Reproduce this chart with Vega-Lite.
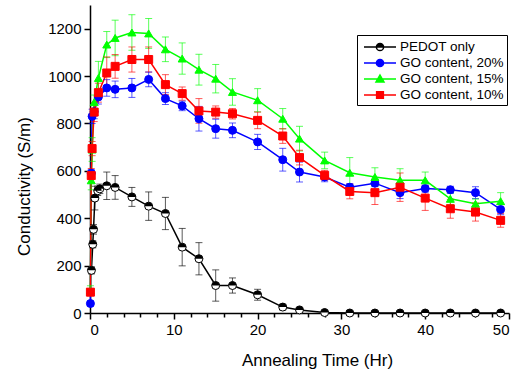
{
  "$schema": "https://vega.github.io/schema/vega-lite/v6.json",
  "width": 419,
  "height": 308,
  "autosize": {"type": "none"},
  "padding": {"left": 90, "top": 5, "right": 15, "bottom": 60},
  "config": {
    "font": "Liberation Sans",
    "view": {"stroke": null},
    "axis": {"domainColor": "black", "domainWidth": 1.5, "tickColor": "black", "tickWidth": 1.5, "labelColor": "black", "titleColor": "black", "grid": false, "labelFontSize": 15, "titleFontSize": 17, "titleFontWeight": "normal", "tickSize": 6, "labelPadding": 3}
  },
  "data": {"values": [
    {"s":"PEDOT only","t":0.17,"v":180,"e":15},{"s":"PEDOT only","t":0.33,"v":290,"e":15},{"s":"PEDOT only","t":0.42,"v":353,"e":20},{"s":"PEDOT only","t":0.58,"v":485,"e":50},{"s":"PEDOT only","t":0.92,"v":516,"e":20},{"s":"PEDOT only","t":1.17,"v":524,"e":20},{"s":"PEDOT only","t":2,"v":537,"e":58},{"s":"PEDOT only","t":3,"v":530,"e":50},{"s":"PEDOT only","t":5,"v":490,"e":40},{"s":"PEDOT only","t":7,"v":451,"e":60},{"s":"PEDOT only","t":9,"v":420,"e":68},{"s":"PEDOT only","t":11,"v":278,"e":79},{"s":"PEDOT only","t":13,"v":229,"e":68},{"s":"PEDOT only","t":15,"v":116,"e":66},{"s":"PEDOT only","t":17,"v":116,"e":32},{"s":"PEDOT only","t":20,"v":77,"e":23},{"s":"PEDOT only","t":23,"v":25,"e":12},{"s":"PEDOT only","t":25,"v":13,"e":9},{"s":"PEDOT only","t":28,"v":2,"e":0},{"s":"PEDOT only","t":31,"v":0,"e":0},{"s":"PEDOT only","t":34,"v":0,"e":0},{"s":"PEDOT only","t":37,"v":0,"e":0},{"s":"PEDOT only","t":40,"v":0,"e":0},{"s":"PEDOT only","t":43,"v":0,"e":0},{"s":"PEDOT only","t":46,"v":0,"e":0},{"s":"PEDOT only","t":49,"v":0,"e":0},
    {"s":"GO content, 20%","t":0.05,"v":40,"e":10},{"s":"GO content, 20%","t":0.15,"v":590,"e":15},{"s":"GO content, 20%","t":0.25,"v":830,"e":30},{"s":"GO content, 20%","t":0.5,"v":850,"e":30},{"s":"GO content, 20%","t":1,"v":912,"e":30},{"s":"GO content, 20%","t":2,"v":950,"e":35},{"s":"GO content, 20%","t":3,"v":944,"e":35},{"s":"GO content, 20%","t":5,"v":950,"e":40},{"s":"GO content, 20%","t":7,"v":986,"e":31},{"s":"GO content, 20%","t":9,"v":905,"e":25},{"s":"GO content, 20%","t":11,"v":874,"e":20},{"s":"GO content, 20%","t":13,"v":820,"e":52},{"s":"GO content, 20%","t":15,"v":778,"e":40},{"s":"GO content, 20%","t":17,"v":771,"e":31},{"s":"GO content, 20%","t":20,"v":722,"e":32},{"s":"GO content, 20%","t":23,"v":647,"e":48},{"s":"GO content, 20%","t":25,"v":595,"e":42},{"s":"GO content, 20%","t":28,"v":574,"e":20},{"s":"GO content, 20%","t":31,"v":531,"e":15},{"s":"GO content, 20%","t":34,"v":548,"e":15},{"s":"GO content, 20%","t":37,"v":508,"e":25},{"s":"GO content, 20%","t":40,"v":525,"e":15},{"s":"GO content, 20%","t":43,"v":520,"e":15},{"s":"GO content, 20%","t":46,"v":508,"e":25},{"s":"GO content, 20%","t":49,"v":437,"e":22},
    {"s":"GO content, 15%","t":0.05,"v":95,"e":20},{"s":"GO content, 15%","t":0.15,"v":560,"e":40},{"s":"GO content, 15%","t":0.25,"v":690,"e":50},{"s":"GO content, 15%","t":0.5,"v":890,"e":30},{"s":"GO content, 15%","t":1,"v":992,"e":70},{"s":"GO content, 15%","t":2,"v":1133,"e":55},{"s":"GO content, 15%","t":3,"v":1161,"e":75},{"s":"GO content, 15%","t":5,"v":1184,"e":75},{"s":"GO content, 15%","t":7,"v":1180,"e":63},{"s":"GO content, 15%","t":9,"v":1113,"e":52},{"s":"GO content, 15%","t":11,"v":1074,"e":66},{"s":"GO content, 15%","t":13,"v":1027,"e":65},{"s":"GO content, 15%","t":15,"v":989,"e":60},{"s":"GO content, 15%","t":17,"v":933,"e":56},{"s":"GO content, 15%","t":20,"v":898,"e":49},{"s":"GO content, 15%","t":23,"v":820,"e":43},{"s":"GO content, 15%","t":25,"v":736,"e":52},{"s":"GO content, 15%","t":28,"v":644,"e":35},{"s":"GO content, 15%","t":31,"v":592,"e":64},{"s":"GO content, 15%","t":34,"v":574,"e":39},{"s":"GO content, 15%","t":37,"v":560,"e":49},{"s":"GO content, 15%","t":40,"v":560,"e":35},{"s":"GO content, 15%","t":43,"v":482,"e":25},{"s":"GO content, 15%","t":46,"v":461,"e":20},{"s":"GO content, 15%","t":49,"v":472,"e":36},
    {"s":"GO content, 10%","t":0.05,"v":88,"e":15},{"s":"GO content, 10%","t":0.15,"v":580,"e":30},{"s":"GO content, 10%","t":0.25,"v":694,"e":30},{"s":"GO content, 10%","t":0.5,"v":848,"e":40},{"s":"GO content, 10%","t":1,"v":930,"e":40},{"s":"GO content, 10%","t":2,"v":1013,"e":68},{"s":"GO content, 10%","t":3,"v":1041,"e":50},{"s":"GO content, 10%","t":5,"v":1070,"e":53},{"s":"GO content, 10%","t":7,"v":1070,"e":53},{"s":"GO content, 10%","t":9,"v":964,"e":42},{"s":"GO content, 10%","t":11,"v":926,"e":28},{"s":"GO content, 10%","t":13,"v":853,"e":52},{"s":"GO content, 10%","t":15,"v":848,"e":26},{"s":"GO content, 10%","t":17,"v":841,"e":22},{"s":"GO content, 10%","t":20,"v":813,"e":35},{"s":"GO content, 10%","t":23,"v":747,"e":31},{"s":"GO content, 10%","t":25,"v":656,"e":31},{"s":"GO content, 10%","t":28,"v":581,"e":21},{"s":"GO content, 10%","t":31,"v":513,"e":31},{"s":"GO content, 10%","t":34,"v":508,"e":50},{"s":"GO content, 10%","t":37,"v":531,"e":60},{"s":"GO content, 10%","t":40,"v":485,"e":52},{"s":"GO content, 10%","t":43,"v":440,"e":40},{"s":"GO content, 10%","t":46,"v":426,"e":38},{"s":"GO content, 10%","t":49,"v":391,"e":29}
  ]},
  "layer": [
    {
      "mark": {"type": "line", "strokeWidth": 1.5},
      "encoding": {
        "x": {"field": "t", "type": "quantitative", "scale": {"domain": [0, 50], "nice": false}, "axis": {"values": [0, 10, 20, 30, 40, 50], "orient": "bottom", "title": "Annealing Time (Hr)", "titleX": 227, "titleY": 39}},
        "y": {"field": "v", "type": "quantitative", "title": "Conductivity (S/m)", "scale": {"domain": [0, 1300], "nice": false}, "axis": {"values": [0, 200, 400, 600, 800, 1000, 1200], "format": "d", "title": "Conductivity (S/m)", "titleX": -57, "titleY": 181}},
        "color": {"field": "s", "type": "nominal", "scale": {"domain": ["PEDOT only", "GO content, 20%", "GO content, 15%", "GO content, 10%"], "range": ["black", "#0000ff", "#00ff00", "#ff0000"]}, "legend": null},
        "detail": {"field": "s"}
      }
    },
    {
      "mark": {"type": "errorbar", "ticks": true, "size": 7, "thickness": 1, "opacity": 0.65},
      "encoding": {
        "x": {"field": "t", "type": "quantitative", "axis": {"values": [2,4,6,8,12,14,16,18,22,24,26,28,32,34,36,38,42,44,46,48], "orient": "bottom", "tickSize": 4, "labels": false, "domain": false, "title": null}},
        "y": {"field": "v", "type": "quantitative", "title": "Conductivity (S/m)"},
        "yError": {"field": "e"},
        "color": {"field": "s", "type": "nominal", "scale": {"domain": ["PEDOT only", "GO content, 20%", "GO content, 15%", "GO content, 10%"], "range": ["black", "#0000ff", "#00ff00", "#ff0000"]}, "legend": null}
      }
    },
    {
      "mark": {"type": "point", "filled": false, "size": 64, "strokeWidth": 1, "opacity": 1},
      "encoding": {
        "x": {"field": "t", "type": "quantitative", "axis": null},
        "y": {"field": "v", "type": "quantitative", "title": "Conductivity (S/m)"},
        "shape": {"field": "s", "type": "nominal", "scale": {"domain": ["PEDOT only", "GO content, 20%", "GO content, 15%", "GO content, 10%"], "range": ["circle", "circle", "triangle-up", "square"]}, "legend": null},
        "fill": {"field": "s", "type": "nominal", "scale": {"domain": ["PEDOT only", "GO content, 20%", "GO content, 15%", "GO content, 10%"], "range": ["white", "#0000ff", "#00ff00", "#ff0000"]}, "legend": null},
        "stroke": {"field": "s", "type": "nominal", "scale": {"domain": ["PEDOT only", "GO content, 20%", "GO content, 15%", "GO content, 10%"], "range": ["black", "#0000ff", "#00ff00", "#ff0000"]}, "legend": null}
      }
    },
    {
      "transform": [{"filter": "datum.s == 'PEDOT only'"}],
      "mark": {"type": "point", "filled": true, "shape": "M-1,0A1,1 0 0,1 1,0Z", "size": 64, "color": "black", "opacity": 1},
      "encoding": {
        "x": {"field": "t", "type": "quantitative", "axis": null},
        "y": {"field": "v", "type": "quantitative", "title": "Conductivity (S/m)"}
      }
    },
    {
      "transform": [{"filter": "datum.t < 0"}],
      "mark": {"type": "point", "filled": true, "opacity": 1},
      "encoding": {
        "x": {"field": "t", "type": "quantitative", "axis": null},
        "y": {"field": "v", "type": "quantitative", "title": "Conductivity (S/m)"},
        "shape": {"field": "s", "type": "nominal", "scale": {"domain": ["PEDOT only", "GO content, 20%", "GO content, 15%", "GO content, 10%"], "range": ["M-2,0H2M-0.45,0A0.45,0.45 0 0,1 0.45,0ZM0.45,0A0.45,0.45 0 0,1 -0.45,0A0.45,0.45 0 0,0 0.45,0", "M-2,0H2M0.45,0A0.45,0.45 0 1,1 -0.45,0A0.45,0.45 0 1,1 0.45,0Z", "M-2,0H2M0,-0.5L0.5,0.38L-0.5,0.38Z", "M-2,0H2M-0.42,-0.42H0.42V0.42H-0.42Z"]}, "legend": {"title": null, "orient": "none", "legendX": 267, "legendY": 30, "strokeColor": "black", "padding": 3, "symbolSize": 256, "symbolStrokeWidth": 1.5, "symbolOffset": 11, "labelOffset": 11, "labelFontSize": 13.5, "labelColor": "black", "rowPadding": 0}},
        "fill": {"field": "s", "type": "nominal", "scale": {"domain": ["PEDOT only", "GO content, 20%", "GO content, 15%", "GO content, 10%"], "range": ["black", "#0000ff", "#00ff00", "#ff0000"]}, "legend": {"title": null, "orient": "none", "legendX": 267, "legendY": 30, "strokeColor": "black", "padding": 3, "symbolSize": 256, "symbolStrokeWidth": 1.5, "symbolOffset": 11, "labelOffset": 11, "labelFontSize": 13.5, "labelColor": "black", "rowPadding": 0}},
        "stroke": {"field": "s", "type": "nominal", "scale": {"domain": ["PEDOT only", "GO content, 20%", "GO content, 15%", "GO content, 10%"], "range": ["black", "#0000ff", "#00ff00", "#ff0000"]}, "legend": {"title": null, "orient": "none", "legendX": 267, "legendY": 30, "strokeColor": "black", "padding": 3, "symbolSize": 256, "symbolStrokeWidth": 1.5, "symbolOffset": 11, "labelOffset": 11, "labelFontSize": 13.5, "labelColor": "black", "rowPadding": 0}}
      }
    }
  ],
  "resolve": {"scale": {"shape": "independent", "fill": "independent", "stroke": "independent"}, "axis": {"x": "independent"}, "legend": {"shape": "independent", "fill": "independent", "stroke": "independent"}}
}
